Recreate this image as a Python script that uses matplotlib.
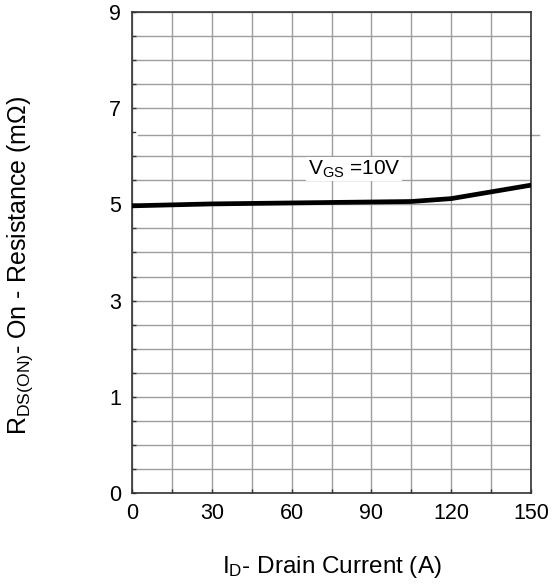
import numpy as np
import matplotlib
matplotlib.use("Agg")
import matplotlib.pyplot as plt

plt.rcParams['font.family'] = ['Liberation Sans', 'DejaVu Sans']
plt.rcParams['mathtext.fontset'] = 'custom'
plt.rcParams['mathtext.rm'] = 'Liberation Sans'
plt.rcParams['mathtext.it'] = 'Liberation Sans'

# drain current (A) and on-resistance (mOhm)
i_d = [0, 15, 30, 45, 60, 75, 90, 105, 120, 135, 150]
r_on = [4.97, 4.99, 5.01, 5.02, 5.03, 5.04, 5.05, 5.06, 5.12, 5.26, 5.40]

x_ticks = [0, 30, 60, 90, 120, 150]
y_ticks = [0, 1, 3, 5, 7, 9]

# datasheet axis: 0..1 takes one step, then 1..9 in steps of 2
def fwd(v):
    v = np.asarray(v, dtype=float)
    return np.where(v <= 1, v, 1 + (v - 1) / 2)

def inv(p):
    p = np.asarray(p, dtype=float)
    return np.where(p <= 1, p, 1 + (p - 1) * 2)

fig = plt.figure(figsize=(5.58, 5.84), dpi=100)
ax = fig.add_axes([0.2366, 0.1558, 0.715, 0.8237])
ax.set_yscale('function', functions=(fwd, inv))
ax.set_xlim(0, 150)
ax.set_ylim(0, 9)

ax.set_xticks(x_ticks)
ax.set_xticks(np.arange(0, 151, 15), minor=True)
ax.set_yticks(y_ticks)
ax.set_yticklabels([str(t) for t in y_ticks])
minor_y = list(np.arange(0, 1, 0.25)) + list(np.arange(1, 9.01, 0.5))
ax.set_yticks([m for m in minor_y if m != 6.5], minor=True)

ax.grid(True, which='both', color='#9e9e9e', linewidth=1.0)
ax.tick_params(which='both', direction='in', length=3, width=1, color='#333333')
ax.tick_params(which='major', labelsize=15.5)
ax.tick_params(axis='x', which='major', pad=7)
ax.tick_params(axis='y', which='major', pad=8)
for s in ax.spines.values():
    s.set_color('#333333')
    s.set_linewidth(1.2)

# stray offset gridline around 6.5
ax.plot([0.015, 1.02], [fwd(6.45) / 5, fwd(6.45) / 5], transform=ax.transAxes,
        color='#9e9e9e', linewidth=1.0, clip_on=False)
ax.plot([0, 0.008], [fwd(6.5) / 5] * 2, transform=ax.transAxes,
        color='#333333', linewidth=1.0, clip_on=False)

ax.plot(i_d, r_on, color='black', linewidth=3.4, zorder=5)

ax.text(66.0, 5.62, r'V$_{\mathrm{GS}}$ =10V', fontsize=15, zorder=4,
        bbox=dict(facecolor='white', edgecolor='none', pad=1))

ax.set_xlabel(r'I$_{\mathrm{D}}$- Drain Current (A)', fontsize=17.5, labelpad=22)
ax.set_ylabel(r'R$_{\mathrm{DS(ON)}}$- On - Resistance (m$\Omega$)', fontsize=18)
ax.yaxis.set_label_coords(-0.243, 0.474)

fig.savefig('out.png', dpi=100)
